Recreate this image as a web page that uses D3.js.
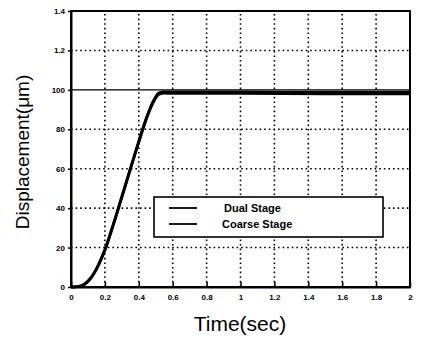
<!DOCTYPE html>
<html>
<head>
<meta charset="utf-8">
<script src="https://cdn.jsdelivr.net/npm/d3@7"></script>
<style>
  body { margin: 0; background: #fff; }
  svg { display: block; }
</style>
</head>
<body>
<script>
// Data.
var xTicks = [0, 0.2, 0.4, 0.6, 0.8, 1, 1.2, 1.4, 1.6, 1.8, 2];
var xTickLabels = ["0", "0.2", "0.4", "0.6", "0.8", "1", "1.2", "1.4", "1.6", "1.8", "2"];
var yTicks = [0, 20, 40, 60, 80, 100, 120, 140];
var yTickLabels = ["0", "20", "40", "60", "80", "100", "1.2", "1.4"];
var seriesNames = ["Dual Stage", "Coarse Stage"];

var dualTime = [0, 0.04, 0.08, 0.12, 0.16, 0.2, 0.25, 0.3, 0.35, 0.4, 0.45, 0.49, 0.52, 0.55, 0.6, 1, 1.5, 2];
var dualDisp = [0, 0.2, 1.5, 5, 11, 19, 32, 46, 60, 74, 87, 95, 98.5, 99, 99, 99, 98.8, 98.8];
var coarseTime = [0, 0.04, 0.08, 0.12, 0.16, 0.2, 0.25, 0.3, 0.35, 0.4, 0.45, 0.49, 0.52, 0.55, 0.6, 1, 1.5, 2];
var coarseDisp = [0, 0.2, 1.4, 4.8, 10.6, 18.6, 31.5, 45.5, 59.5, 73.5, 86.5, 94.5, 97.8, 98.3, 98.2, 98.2, 98, 98];

var width = 427, height = 337;
var margin = {left: 71, right: 17, top: 11, bottom: 50};

var svg = d3.select("body")
  .append("svg")
  .attr("width", width)
  .attr("height", height);

var x = d3.scaleLinear().domain([0, 2]).range([margin.left, width - margin.right]);
var y = d3.scaleLinear().domain([0, 140]).range([height - margin.bottom, margin.top]);

// Grid.
svg.append("g")
  .selectAll("line")
  .data(xTicks.slice(1, -1))
  .enter()
  .append("line")
  .attr("x1", function(d){return x(d);})
  .attr("x2", function(d){return x(d);})
  .attr("y1", y(0))
  .attr("y2", y(140))
  .attr("stroke", "#000")
  .attr("stroke-width", 1.6)
  .attr("stroke-dasharray", "1.6,3");

svg.append("g")
  .selectAll("line")
  .data(yTicks.slice(1, -1))
  .enter()
  .append("line")
  .attr("x1", x(0))
  .attr("x2", x(2))
  .attr("y1", function(d){return y(d);})
  .attr("y2", function(d){return y(d);})
  .attr("stroke", "#000")
  .attr("stroke-width", function(d){return d == 100 ? 1.2 : 1.6;})
  .attr("stroke-dasharray", function(d){return d == 100 ? null : "1.6,3";});

// Axes.
var xAxis = svg.append("g")
  .attr("transform", "translate(0," + y(0) + ")")
  .call(d3.axisBottom(x).tickValues(xTicks).tickSizeInner(-5).tickSizeOuter(0)
    .tickFormat(function(d, i){return xTickLabels[i];}));
xAxis.selectAll("text").attr("dy", "1.2em");

var yAxis = svg.append("g")
  .attr("transform", "translate(" + x(0) + ",0)")
  .call(d3.axisLeft(y).tickValues(yTicks).tickSize(3).tickSizeOuter(0)
    .tickFormat(function(d, i){return yTickLabels[i];}));

svg.selectAll(".tick text")
  .attr("font-family", "Liberation Sans, Arial, sans-serif")
  .attr("font-weight", "bold")
  .attr("font-size", 8)
  .attr("fill", "#000");
svg.selectAll(".domain").attr("stroke", "#000").attr("stroke-width", 2);
svg.selectAll(".tick line").attr("stroke", "#000").attr("stroke-width", 1.5);

// Frame.
svg.append("rect")
  .attr("x", x(0))
  .attr("y", y(140))
  .attr("width", x(2) - x(0))
  .attr("height", y(0) - y(140))
  .attr("fill", "none")
  .attr("stroke", "#000")
  .attr("stroke-width", 2);

// Curves.
var line = d3.line()
  .x(function(d){return x(d[0]);})
  .y(function(d){return y(d[1]);})
  .curve(d3.curveMonotoneX);

var series = [d3.zip(dualTime, dualDisp), d3.zip(coarseTime, coarseDisp)];
svg.append("g")
  .selectAll("path")
  .data(series)
  .enter()
  .append("path")
  .attr("d", line)
  .attr("fill", "none")
  .attr("stroke", "#000")
  .attr("stroke-width", 2.8);

// Legend.
var lg = svg.append("g");
lg.append("rect")
  .attr("x", 154)
  .attr("y", 197)
  .attr("width", 229)
  .attr("height", 40)
  .attr("fill", "#fff")
  .attr("stroke", "#000")
  .attr("stroke-width", 1.6);

var items = lg.selectAll("g.item")
  .data(seriesNames)
  .enter()
  .append("g")
  .attr("transform", function(d, i){return "translate(0," + (208 + i * 16) + ")";});
items.append("line")
  .attr("x1", 169)
  .attr("x2", 197)
  .attr("y1", 0)
  .attr("y2", 0)
  .attr("stroke", "#000")
  .attr("stroke-width", 1.8);
items.append("text")
  .attr("x", function(d, i){return i == 0 ? 224 : 222;})
  .attr("y", 4)
  .attr("font-family", "Liberation Sans, Arial, sans-serif")
  .attr("font-weight", "bold")
  .attr("font-size", 11)
  .text(function(d){return d;});

// Axis titles.
svg.append("text")
  .attr("x", 240)
  .attr("y", 331)
  .attr("text-anchor", "middle")
  .attr("font-family", "Liberation Sans, Arial, sans-serif")
  .attr("font-size", 21)
  .text("Time(sec)");

svg.append("text")
  .attr("transform", "translate(29,152) rotate(-90)")
  .attr("text-anchor", "middle")
  .attr("font-family", "Liberation Sans, Arial, sans-serif")
  .attr("font-size", 19)
  .text("Displacement(\u03bcm)");
</script>
</body>
</html>
